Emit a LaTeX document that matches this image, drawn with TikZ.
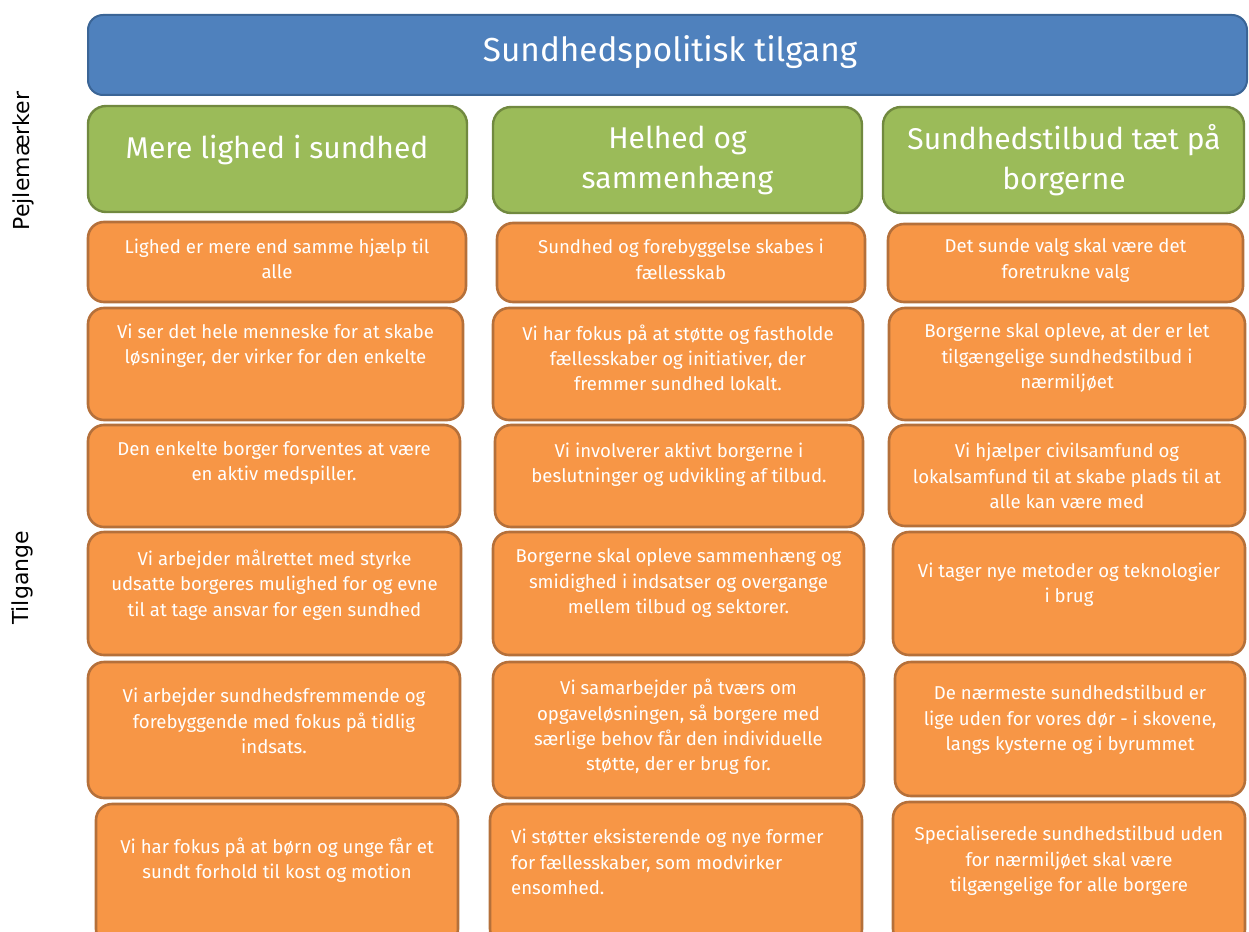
\documentclass[tikz,border=0pt]{standalone}
\usepackage{fontspec}
\setmainfont{Fira Sans}
\newfontfamily\sidefont{DejaVu Sans}

\definecolor{topfill}{HTML}{4F81BD}
\definecolor{topline}{HTML}{3B6596}
\definecolor{aimfill}{HTML}{9BBB59}
\definecolor{aimline}{HTML}{71893F}
\definecolor{cellfill}{HTML}{F79646}
\definecolor{cellline}{HTML}{B5703A}

\tikzset{
    topbox/.style={draw=topline, fill=topfill, line width=2pt, rounded corners=15pt},
    aimbox/.style={draw=aimline, fill=aimfill, line width=2.4pt, rounded corners=18pt},
    cellbox/.style={draw=cellline, fill=cellfill, line width=2.6pt, rounded corners=16pt},
    celltext/.style={text=white, align=center, inner sep=0pt, font=\fontsize{18.6}{25.3}\selectfont},
    aimtext/.style={text=white, align=center, inner sep=0pt, font=\fontsize{30}{40}\selectfont},
    sidetext/.style={rotate=90, inner sep=0pt, font=\sidefont\fontsize{22}{26}\selectfont}
}

% name, x1, y1, x2, y2, text centre y, text
\newcommand\cell[8][]{%
    \node[cellbox, minimum width={(#5-#3)*1pt}, minimum height={(#6-#4)*1pt}] (#2) at ({(#3+#5)/2},{(#4+#6)/2}) {};
    \node[celltext, #1] (#2-t) at ({(#3+#5)/2},#7) {#8};
}

\begin{document}
\begin{tikzpicture}[x=1pt, y=-1pt]
    \useasboundingbox (0,0) rectangle (1249,931);
    \clip (0,0) rectangle (1249,931);

    \node[sidetext] (pejle) at (23,161) {Pejlemærker};
    \node[sidetext] (tilg) at (22,578) {Tilgange};

    \node[topbox, minimum width=1159pt, minimum height=80pt] (top) at (667.5,55) {};
    \node[text=white, inner sep=0pt, font=\fontsize{33.3}{40}\selectfont] (top-t) at (670,52) {Sundhedspolitisk tilgang};

    \node[aimbox, minimum width=379pt, minimum height=106pt] (aim1) at (277.5,159) {};
    \node[aimbox, minimum width=369pt, minimum height=106pt] (aim2) at (677.5,160) {};
    \node[aimbox, minimum width=361pt, minimum height=106pt] (aim3) at (1063.5,160) {};
    \node[aimtext] (aim1-t) at (277,150) {Mere lighed i sundhed};
    \node[aimtext] (aim2-t) at (677.5,160) {Helhed og\\sammenhæng};
    \node[aimtext] (aim3-t) at (1064,160) {Sundhedstilbud tæt på\\borgerne};

    % column 1
    \cell{a1}{88}{222}{466}{302}{259}{Lighed er mere end samme hjælp til\\alle}
    \cell{a2}{88}{308}{463}{420}{346}{Vi ser det hele menneske for at skabe\\løsninger, der virker for den enkelte}
    \cell{a3}{88}{425}{460}{527}{463}{Den enkelte borger forventes at være\\en aktiv medspiller.}
    \cell{a4}{88}{532}{461}{655}{585}{Vi arbejder målrettet med styrke\\udsatte borgeres mulighed for og evne\\til at tage ansvar for egen sundhed}
    \cell{a5}{88}{662}{460}{798}{721}{Vi arbejder sundhedsfremmende og\\forebyggende med fokus på tidlig\\indsats.}
    \cell{a6}{96}{804}{458}{945}{860}{Vi har fokus på at børn og unge får et\\sundt forhold til kost og motion}

    % column 2
    \cell{b1}{497}{223}{865}{302}{259.5}{Sundhed og forebyggelse skabes i\\fællesskab}
    \cell{b2}{493}{308}{863}{420}{358}{Vi har fokus på at støtte og fastholde\\fællesskaber og initiativer, der\\fremmer sundhed lokalt.}
    \cell{b3}{495}{425}{863}{527}{464.5}{Vi involverer aktivt borgerne i\\beslutninger og udvikling af tilbud.}
    \cell{b4}{493}{532}{864}{655}{583}{Borgerne skal opleve sammenhæng og\\smidighed i indsatser og overgange\\mellem tilbud og sektorer.}
    \cell{b5}{493}{662}{864}{798}{727}{Vi samarbejder på tværs om\\opgaveløsningen, så borgere med\\særlige behov får den individuelle\\støtte, der er brug for.}
    \cell[align=left, anchor=west, xshift=-165pt]{b6}{490}{804}{862}{945}{862}{Vi støtter eksisterende og nye former\\for fællesskaber, som modvirker\\ensomhed.}

    % column 3
    \cell{c1}{888}{224}{1243}{302}{260.5}{Det sunde valg skal være det\\foretrukne valg}
    \cell{c2}{889}{308}{1245}{420}{358}{Borgerne skal opleve, at der er let\\tilgængelige sundhedstilbud i\\nærmiljøet}
    \cell{c3}{889}{425}{1245}{526}{476}{Vi hjælper civilsamfund og\\lokalsamfund til at skabe plads til at\\alle kan være med}
    \cell{c4}{893}{532}{1245}{655}{584.5}{Vi tager nye metoder og teknologier\\i brug}
    \cell{c5}{895}{662}{1245}{796}{720}{De nærmeste sundhedstilbud er\\lige uden for vores dør - i skovene,\\langs kysterne og i byrummet}
    \cell{c6}{893}{802}{1245}{945}{861}{Specialiserede sundhedstilbud uden\\for nærmiljøet skal være\\tilgængelige for alle borgere}
\end{tikzpicture}
\end{document}
